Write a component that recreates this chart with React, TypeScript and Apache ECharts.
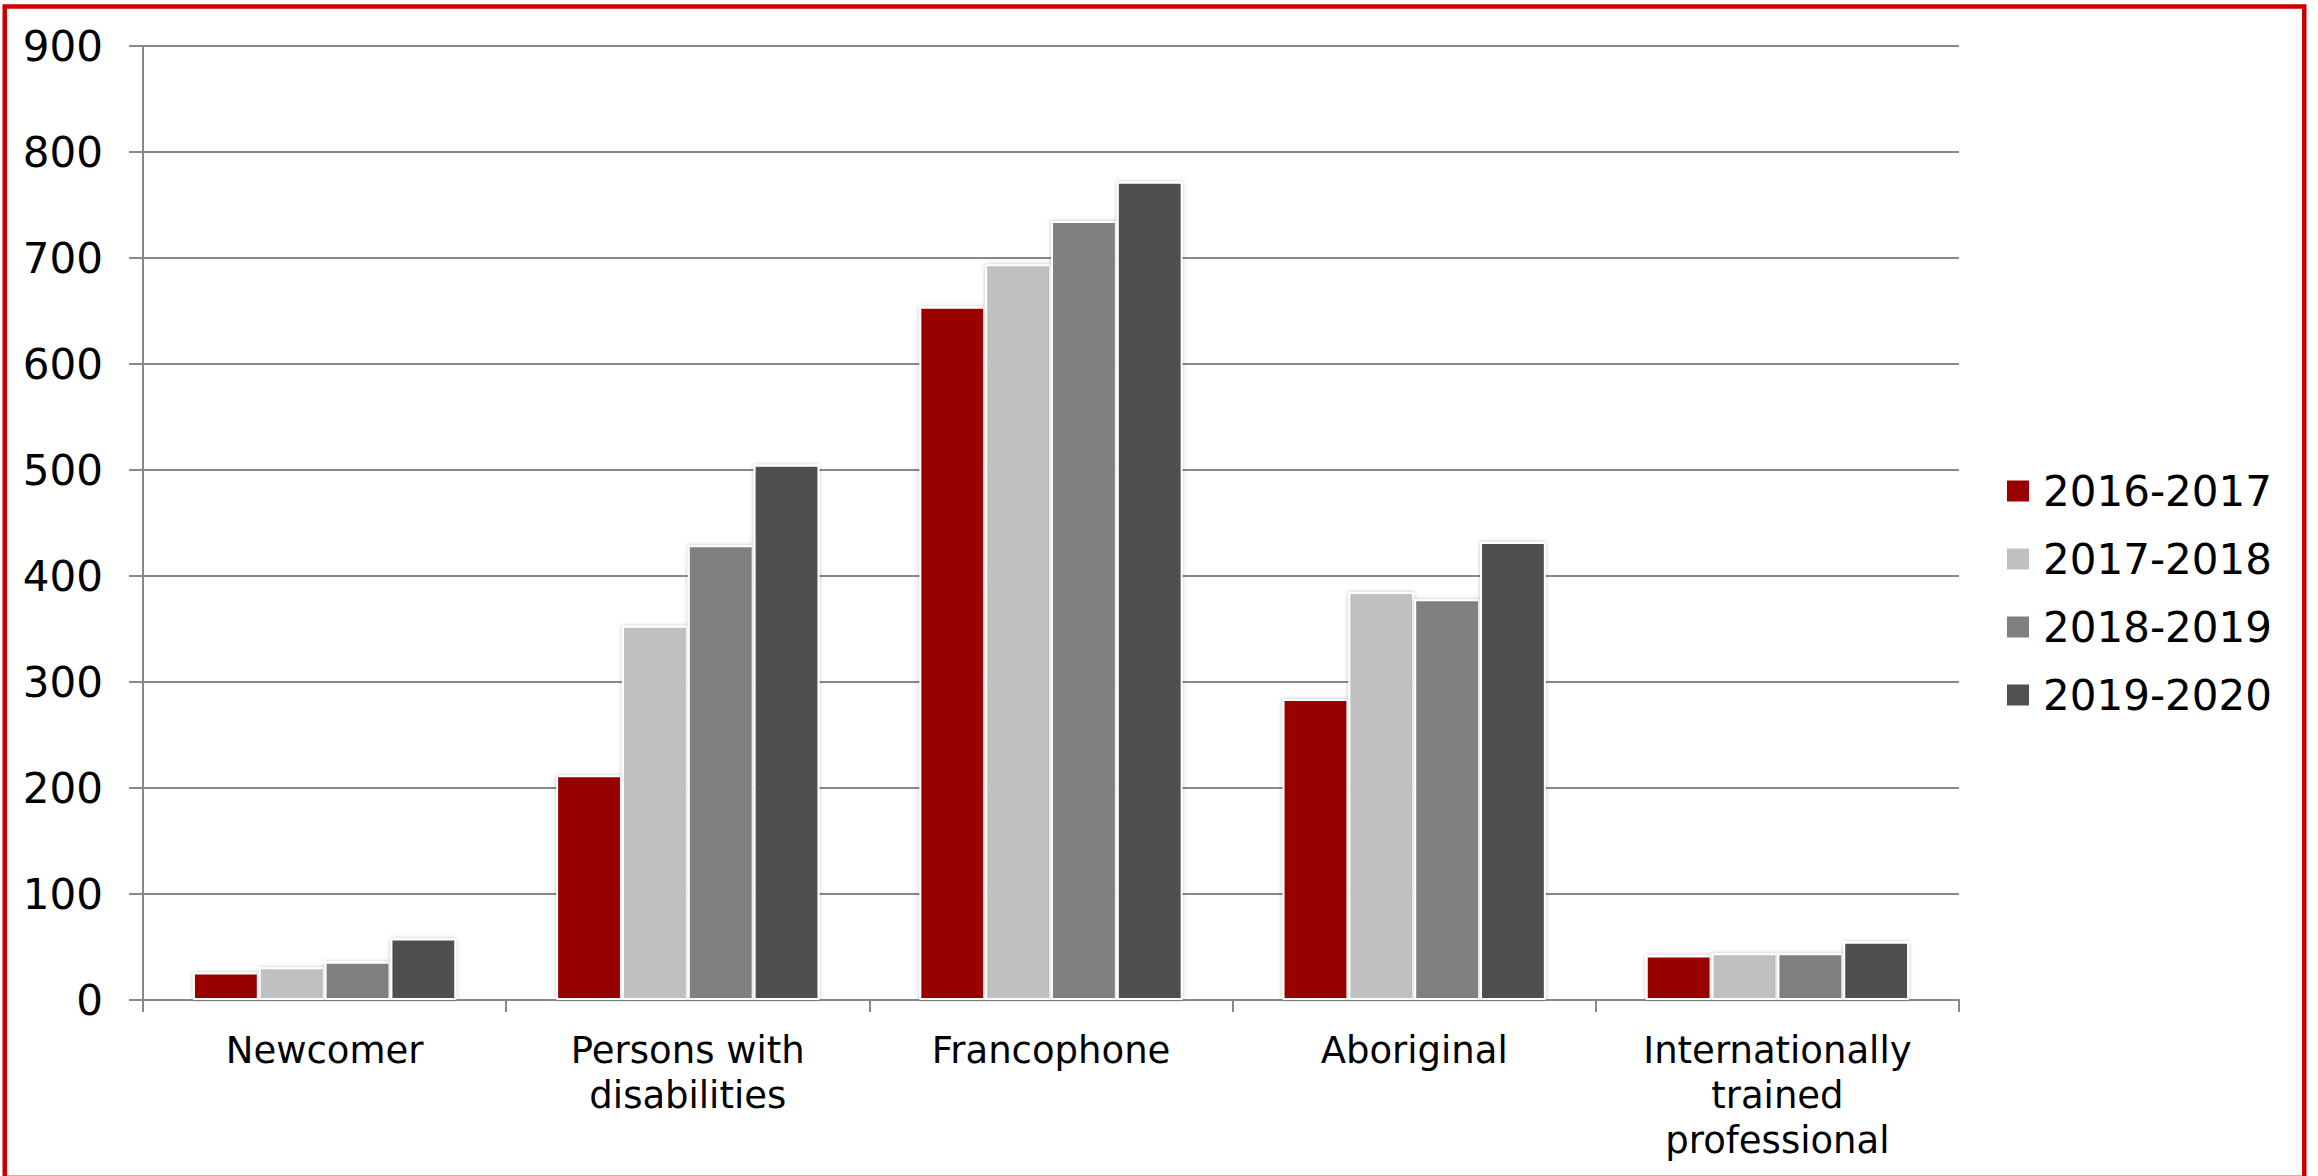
import React, { useEffect, useRef } from "react";
import * as echarts from "echarts";

const categories = [
  "Newcomer",
  "Persons with\ndisabilities",
  "Francophone",
  "Aboriginal",
  "Internationally\ntrained\nprofessional",
];
const seriesNames = ["2016-2017", "2017-2018", "2018-2019", "2019-2020"];
const values2016 = [26, 212, 654, 284, 42];
const values2017 = [31, 353, 694, 385, 44];
const values2018 = [36, 429, 735, 378, 44];
const values2019 = [58, 505, 772, 432, 55];
const seriesColors = ["#990000", "#c0c0c0", "#808080", "#505050"];
const yTicks = { min: 0, max: 900, interval: 100 };

export default function App() {
  const ref = useRef<HTMLDivElement>(null);
  useEffect(() => {
    document.body.style.margin = "0";
    const chart = echarts.init(ref.current!, null, { renderer: "svg" });
    const allValues = [values2016, values2017, values2018, values2019];
    const font = "DejaVu Sans";
    chart.setOption({
      animation: false,
      backgroundColor: "#ffffff",
      grid: { left: 143, right: 359, top: 46, bottom: 176, containLabel: false },
      legend: {
        orient: "vertical",
        left: 2007,
        top: 470,
        padding: 0,
        itemWidth: 22,
        itemHeight: 21,
        itemGap: 26,
        icon: "rect",
        itemStyle: { borderWidth: 0, shadowBlur: 0 },
        textStyle: {
          fontFamily: font,
          fontSize: 42,
          lineHeight: 42,
          color: "#000",
          padding: [0, 0, 0, 9],
        },
        data: seriesNames,
      },
      xAxis: {
        type: "category",
        data: categories,
        axisLine: { show: true, lineStyle: { color: "#888888", width: 2 } },
        axisTick: { show: true, length: 12, lineStyle: { color: "#888888", width: 2 } },
        axisLabel: {
          fontFamily: font,
          fontSize: 37,
          lineHeight: 45,
          color: "#000",
          margin: 28,
          interval: 0,
          align: "center",
        },
        splitLine: { show: false },
      },
      yAxis: {
        type: "value",
        min: yTicks.min,
        max: yTicks.max,
        interval: yTicks.interval,
        axisLine: { show: true, lineStyle: { color: "#888888", width: 2 } },
        axisTick: { show: true, length: 14, lineStyle: { color: "#888888", width: 2 } },
        axisLabel: { fontFamily: font, fontSize: 42, color: "#000", margin: 40 },
        splitLine: { show: true, lineStyle: { color: "#888888", width: 2 } },
      },
      series: seriesNames.map((name, i) => ({
        name,
        type: "bar",
        data: allValues[i],
        barGap: "0%",
        barCategoryGap: "27.5%",
        itemStyle: {
          color: seriesColors[i],
          borderColor: "#ffffff",
          borderWidth: 2,
          shadowBlur: 4,
          shadowColor: "rgba(0,0,0,0.25)",
        },
      })),
      graphic: [
        {
          type: "rect",
          silent: true,
          shape: { x: 4.75, y: 6.5, width: 2299.5, height: 1176 },
          style: { fill: "none", stroke: "#cc0000", lineWidth: 4.5 },
        },
        {
          type: "line",
          silent: true,
          shape: { x1: 7, y1: 1175.5, x2: 2302, y2: 1175.5 },
          style: { stroke: "#e8a6a6", lineWidth: 1 },
        },
      ],
    });
    return () => chart.dispose();
  }, []);
  return (
    <div
      ref={ref}
      style={{ position: "absolute", left: 0, top: 0, width: 2318, height: 1176 }}
    />
  );
}
